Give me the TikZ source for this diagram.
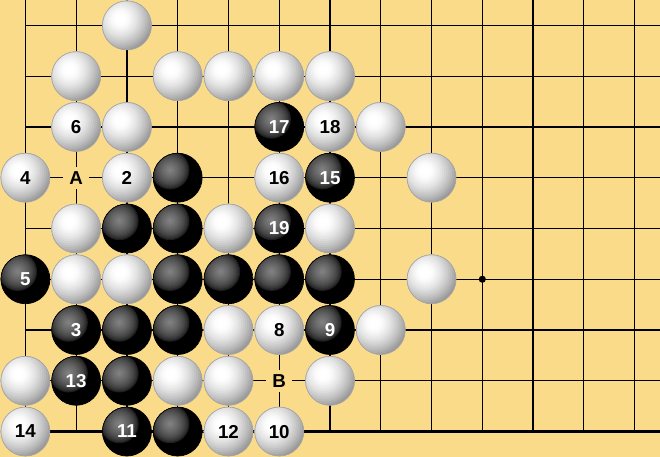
\documentclass[tikz,border=0pt]{standalone}
\usepackage{fontspec}
\setmainfont{Liberation Sans}
\usetikzlibrary{calc}

\definecolor{board}{RGB}{250,219,138}

\begin{document}
\begin{tikzpicture}[x=1cm,y=1cm,
  wstone/.style={circle, draw=black!35, line width=0.4pt,
    minimum size=0.965cm, inner sep=0pt, text=black, font=\bfseries\fontsize{10.5}{12}\selectfont},
  bstone/.style={circle, draw=black, line width=0.4pt,
    minimum size=0.965cm, inner sep=0pt, text=white, font=\bfseries\fontsize{10.5}{12}\selectfont},
  ptlabel/.style={fill=board, inner sep=0pt, minimum width=0.52cm, minimum height=0.44cm,
    text=black, font=\bfseries\fontsize{10.5}{12}\selectfont}]

\fill[board] (-0.5,-8.5) rectangle (12.5,0.5);
\useasboundingbox (-0.5,-8.5) rectangle (12.5,0.5);

% grid
\foreach \c in {0,...,12} {
  \draw[line width=0.7pt] (\c,-8) -- (\c,0.5);
}
\foreach \r in {0,...,7} {
  \draw[line width=0.7pt] (0,-\r) -- (12.5,-\r);
}
\draw[line width=1.3pt] (0,-8) -- (12.5,-8);
\fill (9,-5) circle (0.07);

% white stones
\foreach \c/\r/\t in {2/0/{}, 1/1/{}, 3/1/{}, 4/1/{}, 5/1/{}, 6/1/{},
    1/2/6, 2/2/{}, 6/2/18, 7/2/{}, 0/3/4, 2/3/2, 5/3/16, 8/3/{},
    1/4/{}, 4/4/{}, 6/4/{}, 1/5/{}, 2/5/{}, 8/5/{},
    4/6/{}, 5/6/8, 7/6/{}, 0/7/{}, 3/7/{}, 4/7/{}, 6/7/{},
    0/8/14, 4/8/12, 5/8/10} {
  \begin{scope}
    \clip (\c,-\r) circle (0.4825);
    \foreach \k in {0,...,15} {
      \pgfmathsetmacro\stonerad{0.7-0.04*\k}
      \pgfmathsetmacro\stonet{max(0,(\stonerad-0.1)/0.6)}
      \pgfmathsetmacro\stoneshd{44*\stonet*sqrt(\stonet)}
      \fill[black!\stoneshd] ($(\c,-\r)+(-0.13,0.13)$) circle (\stonerad);
    }
  \end{scope}
  \node[wstone] (w\c-\r) at (\c,-\r) {\t};
}

% black stones
\foreach \c/\r/\t in {5/2/17, 3/3/{}, 6/3/15, 2/4/{}, 3/4/{}, 5/4/19,
    0/5/5, 3/5/{}, 4/5/{}, 5/5/{}, 6/5/{},
    1/6/3, 2/6/{}, 3/6/{}, 6/6/9, 1/7/13, 2/7/{}, 2/8/11, 3/8/{}} {
  \begin{scope}
    \clip (\c,-\r) circle (0.4825);
    \fill[black] (\c,-\r) circle (0.4825);
    \foreach \k in {0,...,19} {
      \pgfmathsetmacro\stonerad{0.4-0.02*\k}
      \pgfmathsetmacro\stonet{max(0,1-\stonerad/0.4)}
      \pgfmathsetmacro\stoneshd{100-52*sqrt(\stonet)}
      \fill[black!\stoneshd] ($(\c,-\r)+(-0.15,0.15)$) circle (\stonerad);
    }
  \end{scope}
  \node[bstone] (b\c-\r) at (\c,-\r) {\t};
}

% marked points
\node[ptlabel] (A) at (1,-3) {A};
\node[ptlabel] (B) at (5,-7) {B};

\end{tikzpicture}
\end{document}
